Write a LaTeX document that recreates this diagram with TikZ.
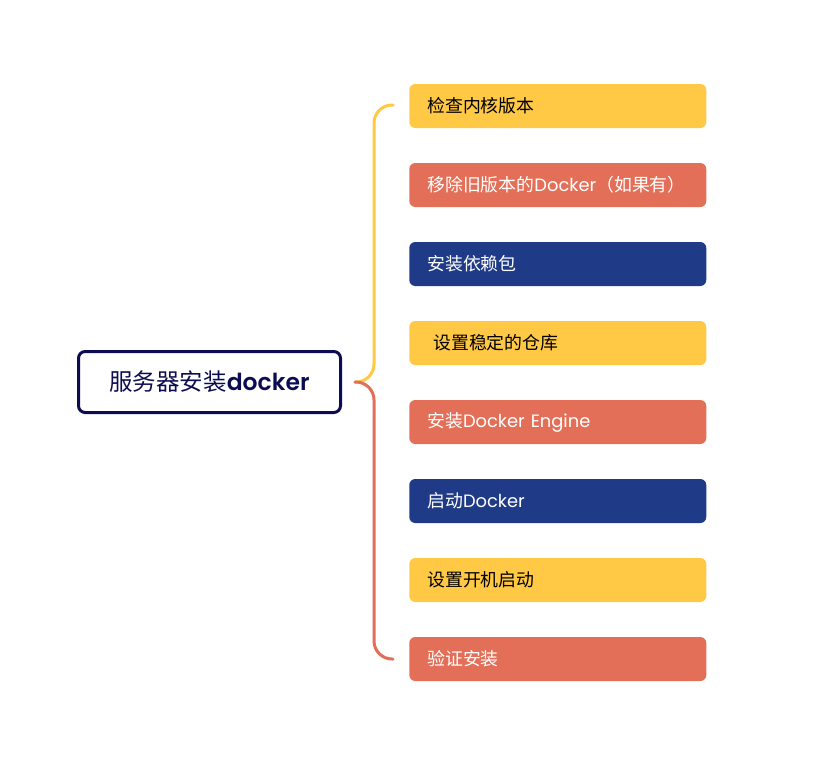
\documentclass[tikz,border=0pt]{standalone}
\usepackage{fontspec}
\setmainfont{Poppins}
\newfontfamily\cjk{Noto Sans CJK SC}
\newfontfamily\pmed{Poppins SemiBold}
\usetikzlibrary{calc}
\definecolor{myyellow}{HTML}{FFC845}
\definecolor{myred}{HTML}{E36F58}
\definecolor{mynavy}{HTML}{1F3B87}
\definecolor{rootnavy}{HTML}{0C0C52}
\tikzset{
  child/.style={anchor=west, rounded corners=4.5pt, text width=195.75pt, inner xsep=13.5pt,
    minimum height=33pt, inner ysep=0pt, align=left, font=\fontsize{13.4pt}{15pt}\selectfont},
  ybox/.style={child, fill=myyellow, text=black},
  rbox/.style={child, fill=myred, text=white},
  nbox/.style={child, fill=mynavy, text=white},
  rootbox/.style={draw=rootnavy, line width=2.25pt, fill=white, rounded corners=5pt,
    minimum width=196.5pt, minimum height=45.75pt, text=rootnavy,
    font=\fontsize{17.6pt}{20pt}\selectfont},
  brace/.style={line width=2.25pt, rounded corners=13.5pt, line cap=round}
}
\begin{document}
\begin{tikzpicture}[x=0.75pt,y=-0.75pt]
\useasboundingbox[fill=white] (0,0) rectangle (832,775);
\node[rootbox] (root) at (209.5,382) {{\cjk 服务器安装}{\pmed docker}};
\node[ybox] (c1) at (409,106) {{\cjk 检查内核版本}};
\node[rbox] (c2) at (409,185) {{\cjk 移除旧版本的}Docker{\cjk （如果有）}};
\node[nbox] (c3) at (409,264) {{\cjk 安装依赖包}};
\node[ybox] (c4) at (409,343) {\hspace*{4.5pt}{\cjk 设置稳定的仓库}};
\node[rbox] (c5) at (409,422) {{\cjk 安装}Docker Engine};
\node[nbox] (c6) at (409,501) {{\cjk 启动}Docker};
\node[ybox] (c7) at (409,580) {{\cjk 设置开机启动}};
\node[rbox] (c8) at (409,659) {{\cjk 验证安装}};
\coordinate (j) at ($(root.east)+(13,0)$);
\coordinate (v) at ($(j)+(19,0)$);
\coordinate (t1) at ($(c1.west)+(-16,-1)$);
\coordinate (t8) at ($(c8.west)+(-16,0)$);
\draw[brace, myyellow] (t1) -| (v) -- (j);
\draw[brace, myred] (t8) -| (v) -- (j);
\end{tikzpicture}
\end{document}
